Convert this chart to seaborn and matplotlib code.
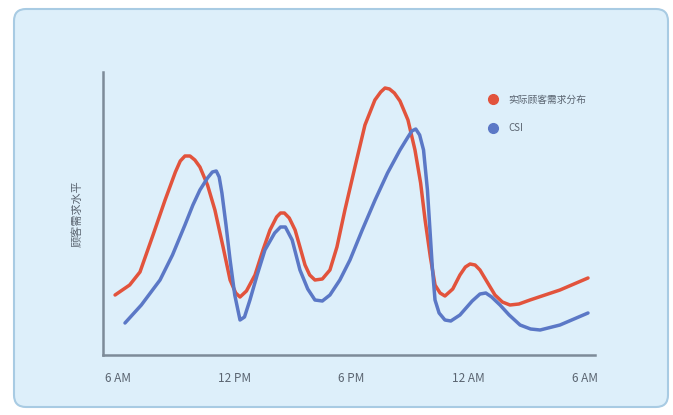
import numpy as np
import pandas as pd
import matplotlib
matplotlib.use('Agg')
import matplotlib.pyplot as plt
from matplotlib.patches import FancyBboxPatch
from matplotlib.lines import Line2D
import seaborn as sns

# hours after 6 AM, level
red_hours = [-0.15, 0.6, 1.13, 1.8, 2.42, 2.95, 3.2, 3.44, 3.7, 3.95, 4.21, 4.6, 4.98, 5.4, 5.76, 6.05, 6.27, 6.6,
             7.04, 7.45, 7.81, 8.15, 8.35, 8.55, 8.8, 9.10, 9.35, 9.61, 9.85, 10.12, 10.5, 10.89, 11.25, 11.66,
             12.2, 12.69, 13.2, 13.5, 13.72, 13.95, 14.2, 14.49, 14.9, 15.26, 15.55, 15.78, 16.05, 16.29, 16.55,
             16.80, 17.2, 17.57, 17.85, 18.09, 18.35, 18.60, 19.0, 19.37, 19.75, 20.14, 20.6, 21.17, 22.71, 24.15]
red_level = [60, 70, 83, 120, 155, 183, 194, 199, 199, 195, 188, 170, 145, 108, 75, 62, 58, 64,
             80, 105, 125, 138, 142, 142, 137, 125, 108, 90, 80, 75, 76, 85, 108, 145,
             190, 230, 255, 263, 267, 266, 262, 254, 235, 205, 172, 135, 98, 70, 62,
             59, 66, 80, 88, 91, 90, 85, 72, 60, 53, 50, 51, 55, 65, 77]
blue_hours = [0.36, 1.2, 2.16, 2.8, 3.44, 3.85, 4.21, 4.6, 4.85, 5.05, 5.2, 5.34, 5.55, 5.76, 6.0, 6.27, 6.5,
              6.78, 7.15, 7.55, 8.05, 8.35, 8.6, 8.95, 9.35, 9.75, 10.12, 10.5, 10.89, 11.4, 11.92, 12.55,
              13.21, 13.85, 14.49, 14.9, 15.1, 15.3, 15.5, 15.7, 15.9, 16.03, 16.15, 16.29, 16.5, 16.80, 17.1,
              17.57, 18.2, 18.6, 18.9, 19.2, 19.63, 20.1, 20.66, 21.2, 21.69, 22.71, 24.15]
blue_level = [32, 50, 75, 100, 130, 150, 165, 177, 183, 184, 178, 162, 130, 95, 60, 35, 38,
              55, 80, 105, 122, 128, 128, 115, 85, 66, 55, 54, 60, 75, 95, 125,
              155, 182, 205, 218, 224, 226, 220, 205, 165, 125, 88, 55, 42, 35, 34,
              40, 54, 61, 62, 58, 50, 40, 30, 26, 25, 30, 42]

tick_pos = [0, 6, 12, 18, 24]
tick_labels = ['6 AM', '12 PM', '6 PM', '12 AM', '6 AM']
names = ['实际顾客需求分布', 'CSI']
y_label = '顾客需求水平'

red_c = '#e2533c'
blue_c = '#5b78c6'

df = pd.concat([
    pd.DataFrame({'h': red_hours, 'v': red_level, 's': names[0]}),
    pd.DataFrame({'h': blue_hours, 'v': blue_level, 's': names[1]}),
])

sns.set_theme(style='white')
plt.rcParams['font.family'] = ['Noto Sans CJK SC', 'DejaVu Sans']

fig = plt.figure(figsize=(6.73, 4.15), dpi=100)
fig.patch.set_facecolor('white')

# background axes carrying the rounded panel
bg = fig.add_axes([0, 0, 1, 1], zorder=-5)
bg.set_axis_off()
bg.set_xlim(0, 673)
bg.set_ylim(0, 415)
bg.add_patch(FancyBboxPatch((14, 8), 654, 398, boxstyle='round,pad=0,rounding_size=12',
                            facecolor='#ddeffa', edgecolor='#a8cbe3', linewidth=1.5))

ax = fig.add_axes([103 / 673, 60 / 415, 492 / 673, 283 / 415])
ax.set_facecolor('none')
sns.lineplot(data=df, x='h', y='v', hue='s', palette=[red_c, blue_c], sort=False,
             estimator=None, linewidth=2.5, ax=ax, legend=False,
             solid_joinstyle='round', solid_capstyle='round')

ax.set_xlim(-0.77, 24.51)
ax.set_ylim(0, 283)
ax.set_xticks(tick_pos)
ax.set_xticklabels(tick_labels, fontsize=8.5, color='#5a6470')
ax.set_yticks([])
ax.tick_params(axis='x', length=0, pad=12)
ax.set_xlabel('')
ax.set_ylabel(y_label, fontsize=8, color='#5a6470', labelpad=15)
for side in ['top', 'right']:
    ax.spines[side].set_visible(False)
for side in ['left', 'bottom']:
    ax.spines[side].set_color('#7d8b98')
    ax.spines[side].set_linewidth(1.8)

handles = [Line2D([], [], marker='o', linestyle='', color=red_c, markersize=7),
           Line2D([], [], marker='o', linestyle='', color=blue_c, markersize=7)]
ax.legend(handles, names, loc='upper left', bbox_to_anchor=(0.755, 0.95), frameon=False,
          fontsize=7, labelcolor='#5a6470', handletextpad=0.6, labelspacing=1.9)

fig.savefig('out.png', dpi=100)
